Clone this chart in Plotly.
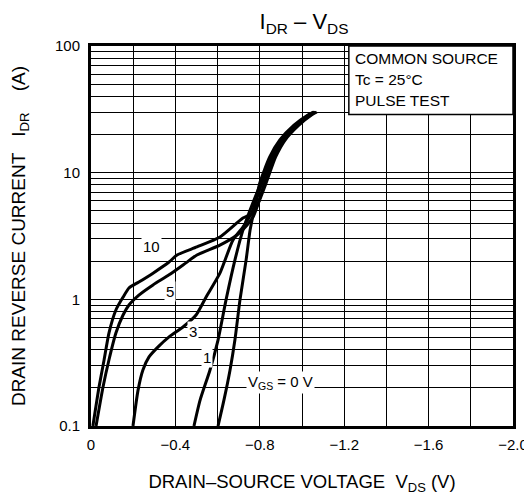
import numpy as np
import plotly.graph_objects as go

# VGS curves (V, A)
v_10 = [-0.009, -0.038, -0.062, -0.085, -0.118, -0.152, -0.18, -0.227, -0.294, -0.37, -0.408,
        -0.502, -0.611, -0.72, -0.768, -0.79, -0.83, -0.875, -0.92, -0.985, -1.045, -1.07]
i_10 = [0.1, 0.203, 0.332, 0.542, 0.824, 1.04, 1.23, 1.37, 1.61, 1.97, 2.24,
        2.59, 3.10, 4.38, 4.8, 5.6, 8.3, 13.3, 18.1, 23.7, 28.5, 30.1]

v_5 = [-0.024, -0.057, -0.085, -0.118, -0.152, -0.18, -0.227, -0.294, -0.37, -0.45,
       -0.502, -0.611, -0.692, -0.739, -0.768, -0.786, -0.822, -0.868, -0.915, -0.98, -1.04, -1.065]
i_5 = [0.1, 0.203, 0.332, 0.542, 0.752, 0.902, 1.08, 1.30, 1.56, 1.94,
       2.24, 2.68, 3.22, 3.85, 4.46, 5.3, 8.3, 13.3, 18.1, 23.7, 28.5, 30.1]

v_3 = [-0.199, -0.223, -0.246, -0.275, -0.318, -0.37, -0.436, -0.498, -0.545,
       -0.611, -0.673, -0.72, -0.763, -0.81, -0.858, -0.905, -0.972, -1.035, -1.06]
i_3 = [0.1, 0.192, 0.277, 0.351, 0.421, 0.505, 0.605, 0.752, 1.04,
       1.61, 2.94, 3.72, 4.89, 8.3, 13.3, 18.1, 23.7, 28.5, 30.1]

v_1 = [-0.488, -0.517, -0.564, -0.602, -0.64, -0.682, -0.72, -0.754,
       -0.805, -0.852, -0.9, -0.968, -1.032, -1.058]
i_1 = [0.1, 0.160, 0.277, 0.477, 0.99, 2.04, 3.52, 5.07,
       8.3, 13.3, 18.1, 23.7, 28.5, 30.1]

v_0 = [-0.602, -0.63, -0.659, -0.682, -0.706, -0.735, -0.754, -0.773,
       -0.8, -0.847, -0.895, -0.962, -1.028, -1.055]
i_0 = [0.1, 0.160, 0.277, 0.477, 0.99, 2.04, 3.52, 5.07,
       8.3, 13.3, 18.1, 23.7, 28.5, 30.1]

curves = [(v_10, i_10), (v_5, i_5), (v_3, i_3), (v_1, i_1), (v_0, i_0)]

# curve labels
label_text = ["10", "5", "3", "1", "V<sub>GS</sub> = 0 V"]
label_v = [-0.289, -0.374, -0.483, -0.55, -0.896]
label_i = [2.59, 1.16, 0.562, 0.35, 0.222]

x_ticks = [0, -0.2, -0.4, -0.6, -0.8, -1.0, -1.2, -1.4, -1.6, -1.8, -2.0]
x_text = ["0", "", "−0.4", "", "−0.8", "", "−1.2", "", "−1.6", "", "−2.0"]

y_ticks = [m * 10.0 ** e for e in (-1, 0, 1) for m in range(1, 10)] + [100]
y_text = []
for e in (-1, 0, 1):
    y_text += [["0.1", "1", "10"][e + 1]] + [""] * 8
y_text += ["100"]

box_lines = ["COMMON SOURCE", "Tc = 25°C", "PULSE TEST"]

fnt = "Liberation Sans, Arial, sans-serif"
nb = "\u00a0"

fig = go.Figure()
for v, i in curves:
    fig.add_trace(go.Scatter(x=v, y=i, mode="lines",
                             line=dict(color="black", width=3, shape="spline", smoothing=0.6),
                             showlegend=False, hoverinfo="skip"))

for t, xv, yv in zip(label_text, label_v, label_i):
    fig.add_annotation(x=xv, y=np.log10(yv), text=t, showarrow=False, bgcolor="white",
                       font=dict(size=15, color="black", family=fnt), borderpad=1)

# condition box
fig.add_shape(type="rect", xref="paper", yref="paper", x0=0.611, x1=1.0, y0=0.82, y1=1.0,
              fillcolor="white", line=dict(color="black", width=1.5), layer="above")
for k, t in enumerate(box_lines):
    fig.add_annotation(xref="paper", yref="paper", x=0.62, y=0.968 - k * 0.056, text=t, showarrow=False,
                       xanchor="left", yanchor="middle", font=dict(size=15.5, color="black", family=fnt))

# page body adds an 8px offset, so the figure is sized to the rest of the window
fig.update_layout(
    width=524, height=491,
    margin=dict(l=83, r=19, t=38, b=73),
    paper_bgcolor="white", plot_bgcolor="white",
    font=dict(family=fnt, size=15, color="black"),
    title=dict(text="I<sub>DR</sub> – V<sub>DS</sub>", x=0.565, xanchor="center", y=0.972, yanchor="middle",
               font=dict(size=22, family=fnt)),
    xaxis=dict(range=[0, -2.0], tickvals=x_ticks, ticktext=x_text, showgrid=True, gridcolor="black",
               gridwidth=1.3, zeroline=False, showline=True, linecolor="black", linewidth=3, mirror=True,
               ticks="", ticklabelstandoff=3, automargin=False,
               title=dict(text="DRAIN–SOURCE VOLTAGE" + nb * 2 + "V<sub>DS</sub> (V)", standoff=24,
                          font=dict(size=18.5))),
    yaxis=dict(type="log", range=[-1, 2], tickvals=y_ticks, ticktext=y_text, showgrid=True, gridcolor="black",
               gridwidth=1.3, zeroline=False, showline=True, linecolor="black", linewidth=3, mirror=True,
               ticks="", ticklabelstandoff=5, automargin=False,
               title=dict(text="DRAIN REVERSE CURRENT" + nb * 3 + "I<sub>DR</sub>" + nb * 4 + "(A)",
                          standoff=30, font=dict(size=19))),
)

fig.write_html("out.html")
